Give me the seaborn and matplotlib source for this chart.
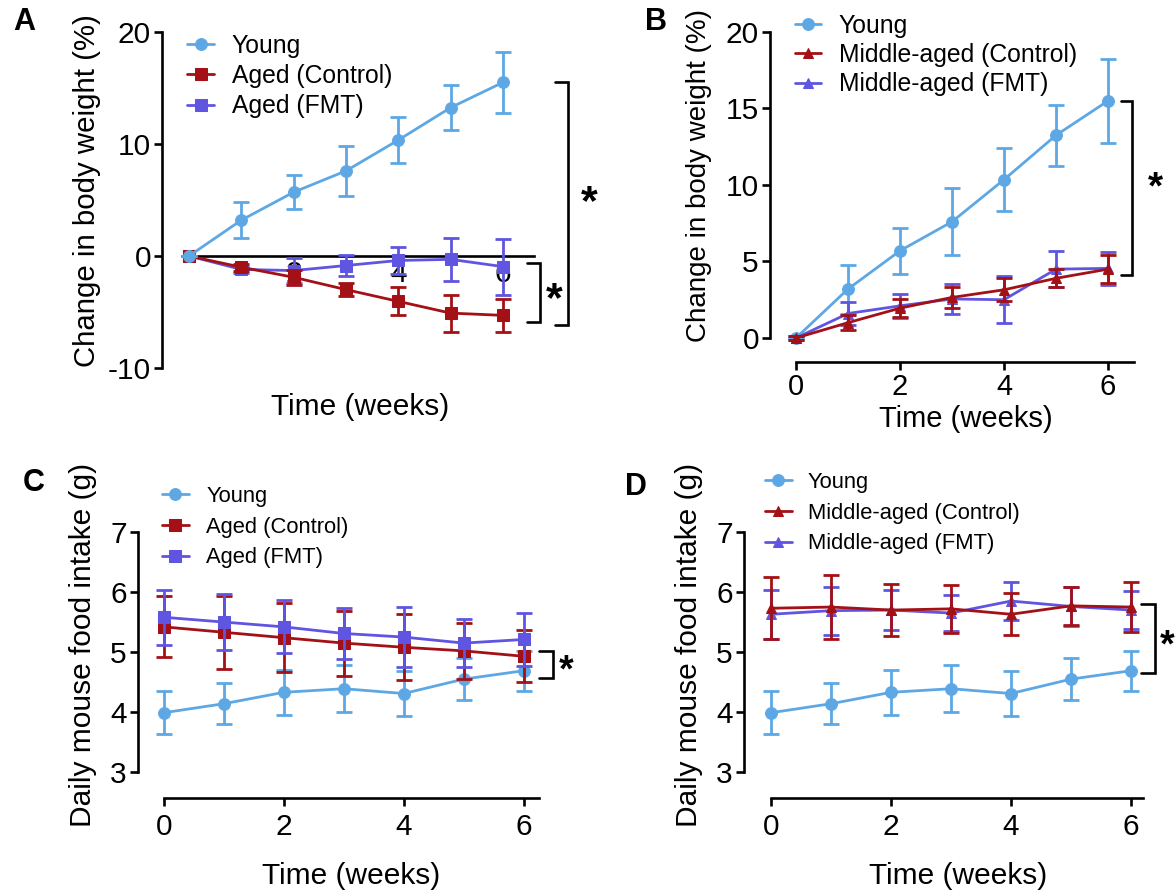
import numpy as np
import pandas as pd
import seaborn as sns
import matplotlib
matplotlib.use("Agg")
import matplotlib.pyplot as plt

# ---------------- data ----------------
weeks = [0, 1, 2, 3, 4, 5, 6]

young_bw = [0, 3.2, 5.7, 7.6, 10.35, 13.25, 15.5]
young_bw_err = [0, 1.6, 1.5, 2.2, 2.05, 2.0, 2.75]
aged_ctrl_bw = [0, -1.0, -1.9, -3.0, -4.05, -5.1, -5.3]
aged_ctrl_bw_err = [0, 0.3, 0.65, 0.6, 1.25, 1.65, 1.45]
aged_fmt_bw = [0, -1.2, -1.3, -0.85, -0.4, -0.3, -0.95]
aged_fmt_bw_err = [0, 0.35, 1.1, 0.95, 1.2, 1.95, 2.5]
mid_ctrl_bw = [0, 1.0, 1.95, 2.65, 3.15, 3.9, 4.5]
mid_ctrl_bw_err = [0.1, 0.5, 0.6, 0.7, 0.75, 0.6, 0.9]
mid_fmt_bw = [0, 1.6, 2.1, 2.55, 2.5, 4.5, 4.55]
mid_fmt_bw_err = [0.1, 0.75, 0.8, 0.95, 1.55, 1.2, 1.1]

young_fi = [3.99, 4.14, 4.33, 4.39, 4.31, 4.55, 4.69]
young_fi_err = [0.36, 0.34, 0.38, 0.39, 0.38, 0.35, 0.33]
aged_ctrl_fi = [5.42, 5.33, 5.24, 5.15, 5.08, 5.02, 4.93]
aged_ctrl_fi_err = [0.51, 0.61, 0.57, 0.54, 0.55, 0.47, 0.43]
aged_fmt_fi = [5.58, 5.5, 5.42, 5.31, 5.25, 5.15, 5.21]
aged_fmt_fi_err = [0.46, 0.47, 0.44, 0.42, 0.5, 0.4, 0.44]
mid_ctrl_fi = [5.73, 5.75, 5.7, 5.72, 5.63, 5.77, 5.75]
mid_ctrl_fi_err = [0.52, 0.54, 0.43, 0.4, 0.35, 0.32, 0.41]
mid_fmt_fi = [5.63, 5.69, 5.7, 5.65, 5.85, 5.76, 5.7]
mid_fmt_fi_err = [0.41, 0.4, 0.33, 0.3, 0.31, 0.32, 0.31]

lbl_young = "Young"
lbl_aged_ctrl = "Aged (Control)"
lbl_aged_fmt = "Aged (FMT)"
lbl_mid_ctrl = "Middle-aged (Control)"
lbl_mid_fmt = "Middle-aged (FMT)"

bw_label = "Change in body weight (%)"
fi_label = "Daily mouse food intake (g)"
time_label = "Time (weeks)"

# ---------------- style ----------------
sns.set_style("ticks")
plt.rcParams['font.family'] = ['Liberation Sans', 'DejaVu Sans']
plt.rcParams['axes.unicode_minus'] = False
plt.rcParams['text.color'] = 'black'
plt.rcParams['axes.labelcolor'] = 'black'
plt.rcParams['xtick.color'] = 'black'
plt.rcParams['ytick.color'] = 'black'

C_YOUNG = "#5DA8E4"
C_CTRL = "#A31015"
C_FMT = "#5F55E0"

TICK = 21.5
AXL = 21.5

W, H = 1176, 894
fig = plt.figure(figsize=(W / 100, H / 100), dpi=100)


def add_ax(l, t, r, b):
    return fig.add_axes([l / W, 1 - b / H, (r - l) / W, (b - t) / H])


def series(ax, y, err, color, marker, label, ms, z):
    df = pd.DataFrame({"week": weeks, "val": y})
    sns.lineplot(data=df, x="week", y="val", color=color, marker=marker,
                 markersize=ms, markeredgecolor=color, linewidth=2.0,
                 label=label, ax=ax, zorder=z, clip_on=False)
    ax.errorbar(weeks, y, yerr=err, fmt="none", ecolor=color,
                elinewidth=2.0, capsize=6, capthick=2.0, zorder=z - 0.1,
                clip_on=False)


def style_axes(ax, tick_size):
    for s in ["top", "right"]:
        ax.spines[s].set_visible(False)
    for s in ["left", "bottom"]:
        ax.spines[s].set_linewidth(1.9)
        ax.spines[s].set_color("black")
    ax.tick_params(axis="both", length=6, width=1.9, labelsize=tick_size,
                   color="black", labelcolor="black", direction="out")
    ax.tick_params(axis="y", pad=2)
    ax.tick_params(axis="x", pad=5)
    ax.set_xlabel("")
    ax.set_ylabel("")
    ax.patch.set_alpha(0)


def bracket(ax, x0, x1, y0, y1, sx, sy, fs):
    ax.plot([x0, x1, x1, x0], [y0, y0, y1, y1], color="black", lw=1.9,
            clip_on=False, solid_joinstyle="miter")
    ax.text(sx, sy, "*", fontsize=fs, fontweight="bold", ha="center",
            va="center", clip_on=False, color="black")


def legend(ax, order, x_px, y_px, fs, hl, htp, ls):
    h, l = ax.get_legend_handles_labels()
    ax.legend([h[i] for i in order], [l[i] for i in order], loc="center left",
              bbox_to_anchor=(x_px / W, 1 - y_px / H),
              bbox_transform=fig.transFigure, frameon=False, fontsize=fs,
              handlelength=hl, handletextpad=htp, labelspacing=ls,
              borderpad=0, borderaxespad=0)


# ---------------- Panel A ----------------
axA = add_ax(162, 32, 162 + 8.1 * 52.3, 368)
series(axA, aged_fmt_bw, aged_fmt_bw_err, C_FMT, "s", lbl_aged_fmt, 8, 4)
series(axA, aged_ctrl_bw, aged_ctrl_bw_err, C_CTRL, "s", lbl_aged_ctrl, 8, 5)
series(axA, young_bw, young_bw_err, C_YOUNG, "o", lbl_young, 8.5, 6)
axA.set_xlim(-0.516, 7.58)
axA.set_ylim(-10, 20)
style_axes(axA, TICK)
axA.spines["bottom"].set_position(("data", 0))
axA.spines["bottom"].set_bounds(0, 6.6)
axA.set_xticks([2, 4, 6])
axA.set_yticks([-10, 0, 10, 20])
axA.tick_params(axis="x", length=0, pad=3)
axA.get_legend().remove()
legend(axA, [2, 1, 0], 187, 76, 17.8, 1.1, 0.7, 0.25)
bracket(axA, 6.45, 6.7, -0.65, -5.9, 6.98, -3.9, 31)
bracket(axA, 7.0, 7.25, 15.5, -6.2, 7.64, 4.7, 31)

# ---------------- Panel B ----------------
axB = add_ax(770, 32, 770 + 7.7 * 52, 362)
series(axB, young_bw, young_bw_err, C_YOUNG, "o", lbl_young, 8.5, 4)
series(axB, mid_fmt_bw, mid_fmt_bw_err, C_FMT, "^", lbl_mid_fmt, 7.5, 5)
series(axB, mid_ctrl_bw, mid_ctrl_bw_err, C_CTRL, "^", lbl_mid_ctrl, 7.5, 6)
axB.set_xlim(-0.5, 7.2)
axB.set_ylim(-1.57, 20)
style_axes(axB, TICK)
axB.tick_params(axis="x", pad=2, labelsize=21)
axB.spines["left"].set_bounds(0, 20)
axB.spines["bottom"].set_bounds(0, 6.5)
axB.set_xticks([0, 2, 4, 6])
axB.set_yticks([0, 5, 10, 15, 20])
axB.get_legend().remove()
legend(axB, [0, 2, 1], 795, 55, 17.8, 1.05, 0.72, 0.22)
bracket(axB, 6.25, 6.46, 15.5, 4.1, 6.92, 9.8, 28)

# ---------------- Panel C ----------------
axC = add_ax(138, 532, 138 + 7.43 * 60, 798)
series(axC, young_fi, young_fi_err, C_YOUNG, "o", lbl_young, 8.5, 4)
series(axC, aged_ctrl_fi, aged_ctrl_fi_err, C_CTRL, "s", lbl_aged_ctrl, 8, 5)
series(axC, aged_fmt_fi, aged_fmt_fi_err, C_FMT, "s", lbl_aged_fmt, 8, 6)
axC.set_xlim(-0.43, 7.0)
axC.set_ylim(2.57, 7)
style_axes(axC, TICK)
axC.spines["left"].set_bounds(3, 7)
axC.spines["bottom"].set_bounds(0, 6.25)
axC.set_xticks([0, 2, 4, 6])
axC.set_yticks([3, 4, 5, 6, 7])
axC.get_legend().remove()
legend(axC, [0, 1, 2], 162, 527, 15.8, 1.23, 0.78, 0.45)
bracket(axC, 6.25, 6.48, 5.02, 4.57, 6.7, 4.68, 27)

# ---------------- Panel D ----------------
axD = add_ax(744, 532, 744 + 7.15 * 60, 798)
series(axD, young_fi, young_fi_err, C_YOUNG, "o", lbl_young, 8.5, 4)
series(axD, mid_fmt_fi, mid_fmt_fi_err, C_FMT, "^", lbl_mid_fmt, 7.5, 5)
series(axD, mid_ctrl_fi, mid_ctrl_fi_err, C_CTRL, "^", lbl_mid_ctrl, 7.5, 6)
axD.set_xlim(-0.45, 6.7)
axD.set_ylim(2.57, 7)
style_axes(axD, TICK)
axD.spines["left"].set_bounds(3, 7)
axD.spines["bottom"].set_bounds(0, 6.2)
axD.set_xticks([0, 2, 4, 6])
axD.set_yticks([3, 4, 5, 6, 7])
axD.get_legend().remove()
legend(axD, [0, 2, 1], 765, 513, 15.8, 1.23, 0.73, 0.45)
bracket(axD, 6.17, 6.4, 5.8, 4.65, 6.6, 5.1, 27)

# ---------------- labels ----------------
def ftext(x, y, s, **kw):
    fig.text(x / W, 1 - y / H, s, color="black", **kw)

ftext(87, 191, bw_label, rotation=90, ha="center", va="center", fontsize=21.2)
ftext(699, 176, bw_label, rotation=90, ha="center", va="center", fontsize=20)
ftext(83, 645, fi_label, rotation=90, ha="center", va="center", fontsize=21.5)
ftext(689, 645, fi_label, rotation=90, ha="center", va="center", fontsize=21.5)

ftext(360, 407, time_label, ha="center", va="center", fontsize=AXL)
ftext(966, 419, time_label, ha="center", va="center", fontsize=21)
ftext(351, 876, time_label, ha="center", va="center", fontsize=AXL)
ftext(958, 876, time_label, ha="center", va="center", fontsize=AXL)

for x, y, s in [(24, 22, "A"), (656, 22, "B"), (34, 483, "C"), (636, 487, "D")]:
    ftext(x, y, s, ha="center", va="center", fontsize=22, fontweight="bold")

fig.savefig("out.png", dpi=100)
